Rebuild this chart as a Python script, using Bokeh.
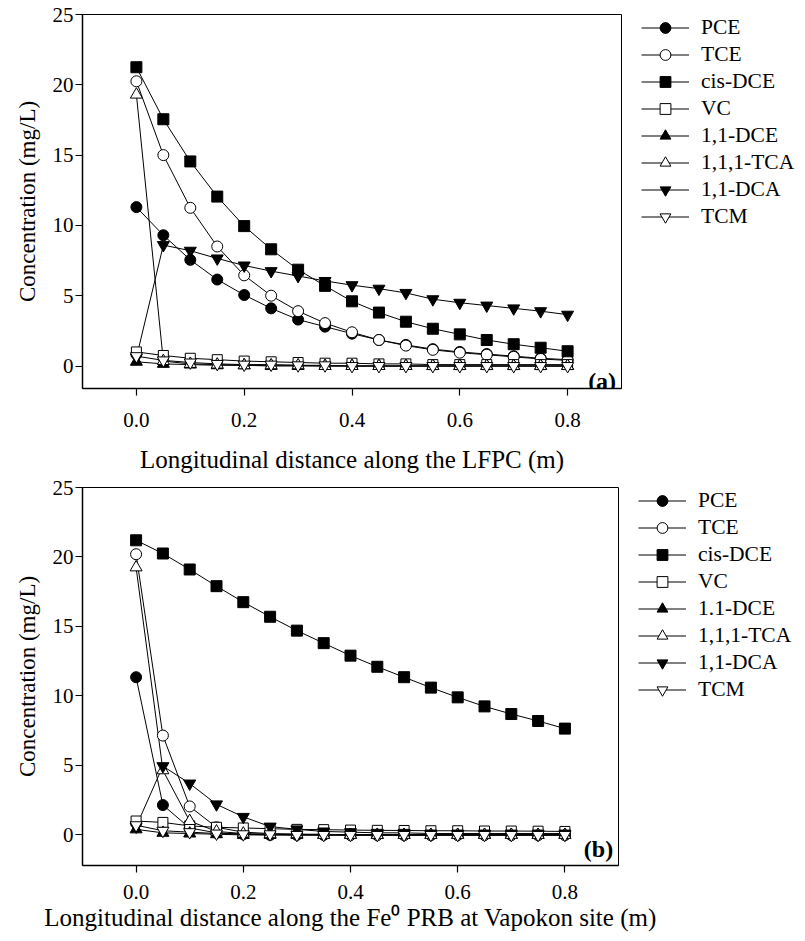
from bokeh.plotting import figure
from bokeh.layouts import column
from bokeh.models import Range1d, FixedTicker, PrintfTickFormatter, Legend, LegendItem, Label
from bokeh.embed import file_html
from bokeh.resources import INLINE

# ---------------- data ----------------
distance = [0.0, 0.05, 0.1, 0.15, 0.2, 0.25, 0.3, 0.35, 0.4, 0.45, 0.5, 0.55, 0.6, 0.65, 0.7, 0.75, 0.8]

labels_a = ["PCE", "TCE", "cis-DCE", "VC", "1,1-DCE", "1,1,1-TCA", "1,1-DCA", "TCM"]
labels_b = ["PCE", "TCE", "cis-DCE", "VC", "1.1-DCE", "1,1,1-TCA", "1,1-DCA", "TCM"]

# Panel (a): LFPC
pce_a   = [11.3, 9.3, 7.55, 6.15, 5.05, 4.1, 3.3, 2.8, 2.3, 1.85, 1.5, 1.2, 1.0, 0.85, 0.7, 0.55, 0.45]
tce_a   = [20.25, 15.0, 11.25, 8.5, 6.45, 5.0, 3.9, 3.05, 2.4, 1.85, 1.45, 1.15, 0.95, 0.8, 0.65, 0.5, 0.4]
cis_a   = [21.25, 17.55, 14.55, 12.05, 9.95, 8.3, 6.85, 5.7, 4.6, 3.8, 3.15, 2.65, 2.25, 1.85, 1.55, 1.3, 1.05]
vc_a    = [1.0, 0.75, 0.55, 0.45, 0.35, 0.3, 0.25, 0.2, 0.2, 0.15, 0.15, 0.1, 0.1, 0.1, 0.1, 0.1, 0.1]
dce_a   = [0.3, 0.15, 0.1, 0.05, 0.05, 0.0, 0.0, 0.0, 0.0, 0.0, 0.0, 0.0, 0.0, 0.0, 0.0, 0.0, 0.0]
tca_a   = [19.3, 0.35, 0.15, 0.1, 0.05, 0.05, 0.05, 0.0, 0.0, 0.0, 0.0, 0.0, 0.0, 0.0, 0.0, 0.0, 0.0]
dca_a   = [0.6, 8.6, 8.2, 7.65, 7.15, 6.75, 6.4, 6.05, 5.75, 5.5, 5.2, 4.75, 4.5, 4.3, 4.1, 3.9, 3.65]
tcm_a   = [0.7, 0.4, 0.25, 0.15, 0.1, 0.1, 0.05, 0.05, 0.0, 0.0, 0.0, 0.0, 0.0, 0.0, 0.0, 0.0, 0.0]

# Panel (b): Fe0 PRB at Vapokon site
pce_b   = [11.35, 2.15, 0.5, 0.15, 0.05, 0.0, 0.0, 0.0, 0.0, 0.0, 0.0, 0.0, 0.0, 0.0, 0.0, 0.0, 0.0]
tce_b   = [20.2, 7.15, 2.05, 0.55, 0.2, 0.1, 0.05, 0.05, 0.0, 0.0, 0.0, 0.0, 0.0, 0.0, 0.0, 0.0, 0.0]
cis_b   = [21.2, 20.25, 19.1, 17.9, 16.75, 15.7, 14.7, 13.8, 12.9, 12.1, 11.35, 10.6, 9.9, 9.25, 8.7, 8.2, 7.65]
vc_b    = [1.0, 0.9, 0.65, 0.55, 0.5, 0.45, 0.4, 0.38, 0.35, 0.33, 0.32, 0.3, 0.3, 0.28, 0.28, 0.27, 0.25]
dce_b   = [0.4, 0.15, 0.1, 0.05, 0.0, 0.0, 0.0, 0.0, 0.0, 0.0, 0.0, 0.0, 0.0, 0.0, 0.0, 0.0, 0.0]
tca_b   = [19.25, 4.65, 1.0, 0.25, 0.1, 0.05, 0.05, 0.0, 0.0, 0.0, 0.0, 0.0, 0.0, 0.0, 0.0, 0.0, 0.0]
dca_b   = [0.6, 4.95, 3.7, 2.2, 1.3, 0.6, 0.4, 0.25, 0.2, 0.15, 0.15, 0.1, 0.1, 0.1, 0.1, 0.1, 0.1]
tcm_b   = [0.7, 0.3, 0.2, 0.1, 0.05, 0.05, 0.0, 0.0, 0.0, 0.0, 0.0, 0.0, 0.0, 0.0, 0.0, 0.0, 0.0]

y_ticks = [0, 5, 10, 15, 20, 25]
x_ticks = [0.0, 0.2, 0.4, 0.6, 0.8]

# marker style per series: (marker, filled, size)
styles = [("circle", True, 11), ("circle", False, 11), ("square", True, 11), ("square", False, 10),
          ("triangle", True, 12), ("triangle", False, 12), ("inverted_triangle", True, 12),
          ("inverted_triangle", False, 12)]

SERIF = "Liberation Serif"
PAGE_W = 805


def make_panel(series, labels, height, left, frame_w, top, frame_h, y_start, xlabel, tag,
               tag_y, tick_standoff, title_standoff, leg_shift):
    p = figure(frame_width=frame_w, frame_height=frame_h,
               x_range=Range1d(-0.1, 0.9), y_range=Range1d(y_start, 25),
               output_backend="svg", toolbar_location=None,
               min_border_left=left, min_border_right=PAGE_W - left - frame_w,
               min_border_top=top, min_border_bottom=height - top - frame_h)
    p.grid.visible = False
    p.outline_line_color = "black"
    p.outline_line_width = 1
    p.background_fill_color = "white"
    p.border_fill_color = "white"

    for ax in (p.xaxis[0], p.yaxis[0]):
        ax.axis_line_width = 1.5
        ax.axis_line_color = "black"
        ax.major_tick_line_width = 1.2
        ax.major_tick_out = 7
        ax.major_tick_in = 0
        ax.minor_tick_out = 0
        ax.minor_tick_in = 0
        ax.major_label_text_font = SERIF
        ax.major_label_text_font_size = "21px"
        ax.major_label_text_color = "black"
        ax.axis_label_text_font = SERIF
        ax.axis_label_text_font_style = "normal"
        ax.axis_label_text_color = "black"

    p.xaxis.ticker = FixedTicker(ticks=x_ticks)
    p.xaxis.formatter = PrintfTickFormatter(format="%.1f")
    p.yaxis.ticker = FixedTicker(ticks=y_ticks)
    p.xaxis.axis_label = xlabel
    p.yaxis.axis_label = "Concentration (mg/L)"
    p.xaxis.axis_label_text_font_size = "25px"
    p.yaxis.axis_label_text_font_size = "23px"
    p.xaxis.major_label_standoff = tick_standoff
    p.xaxis.axis_label_standoff = title_standoff
    p.yaxis.major_label_standoff = 2
    p.yaxis.axis_label_standoff = 10

    line_rs, marker_rs = [], []
    for ys in series:
        line_rs.append(p.line(distance, ys, line_color="black", line_width=1))
    for ys, (mk, filled, sz) in zip(series, styles):
        marker_rs.append(p.scatter(distance, ys, marker=mk, size=sz, line_color="black",
                                   line_width=1, fill_color="black" if filled else "white"))

    items = [LegendItem(label=lab, renderers=[lr, mr])
             for lab, lr, mr in zip(labels, line_rs, marker_rs)]
    leg = Legend(items=items, location="top_left", orientation="vertical",
                 glyph_width=48, glyph_height=27, label_height=27, spacing=0,
                 label_standoff=12, padding=0, margin=0,
                 title=" ", title_location="left", title_text_font_size="1px",
                 title_standoff=leg_shift,
                 label_text_font=SERIF, label_text_font_size="21.5px",
                 label_text_color="black", border_line_color=None,
                 background_fill_alpha=0)
    p.add_layout(leg, "right")

    p.add_layout(Label(x=0.89, y=tag_y, text=tag, text_align="right",
                       text_baseline="middle", text_font=SERIF,
                       text_font_size="24px", text_font_style="bold",
                       text_color="black"))
    return p


series_a = [pce_a, tce_a, cis_a, vc_a, dce_a, tca_a, dca_a, tcm_a]
series_b = [pce_b, tce_b, cis_b, vc_b, dce_b, tca_b, dca_b, tcm_b]

p1 = make_panel(series_a, labels_a, height=475, left=79, frame_w=539, top=14, frame_h=374,
                y_start=-1.6, xlabel="Longitudinal distance along the LFPC (m)", tag="(a)",
                tag_y=-1.1, tick_standoff=17, title_standoff=16, leg_shift=19)
p2 = make_panel(series_b, labels_b, height=466, left=82, frame_w=536, top=12, frame_h=378,
                y_start=-2.2,
                xlabel="Longitudinal distance along the Fe\u2070 PRB at Vapokon site (m)",
                tag="(b)", tag_y=-1.0, tick_standoff=12, title_standoff=2, leg_shift=19)

layout = column(p1, p2)
open("out.html", "w").write(file_html(layout, INLINE))
